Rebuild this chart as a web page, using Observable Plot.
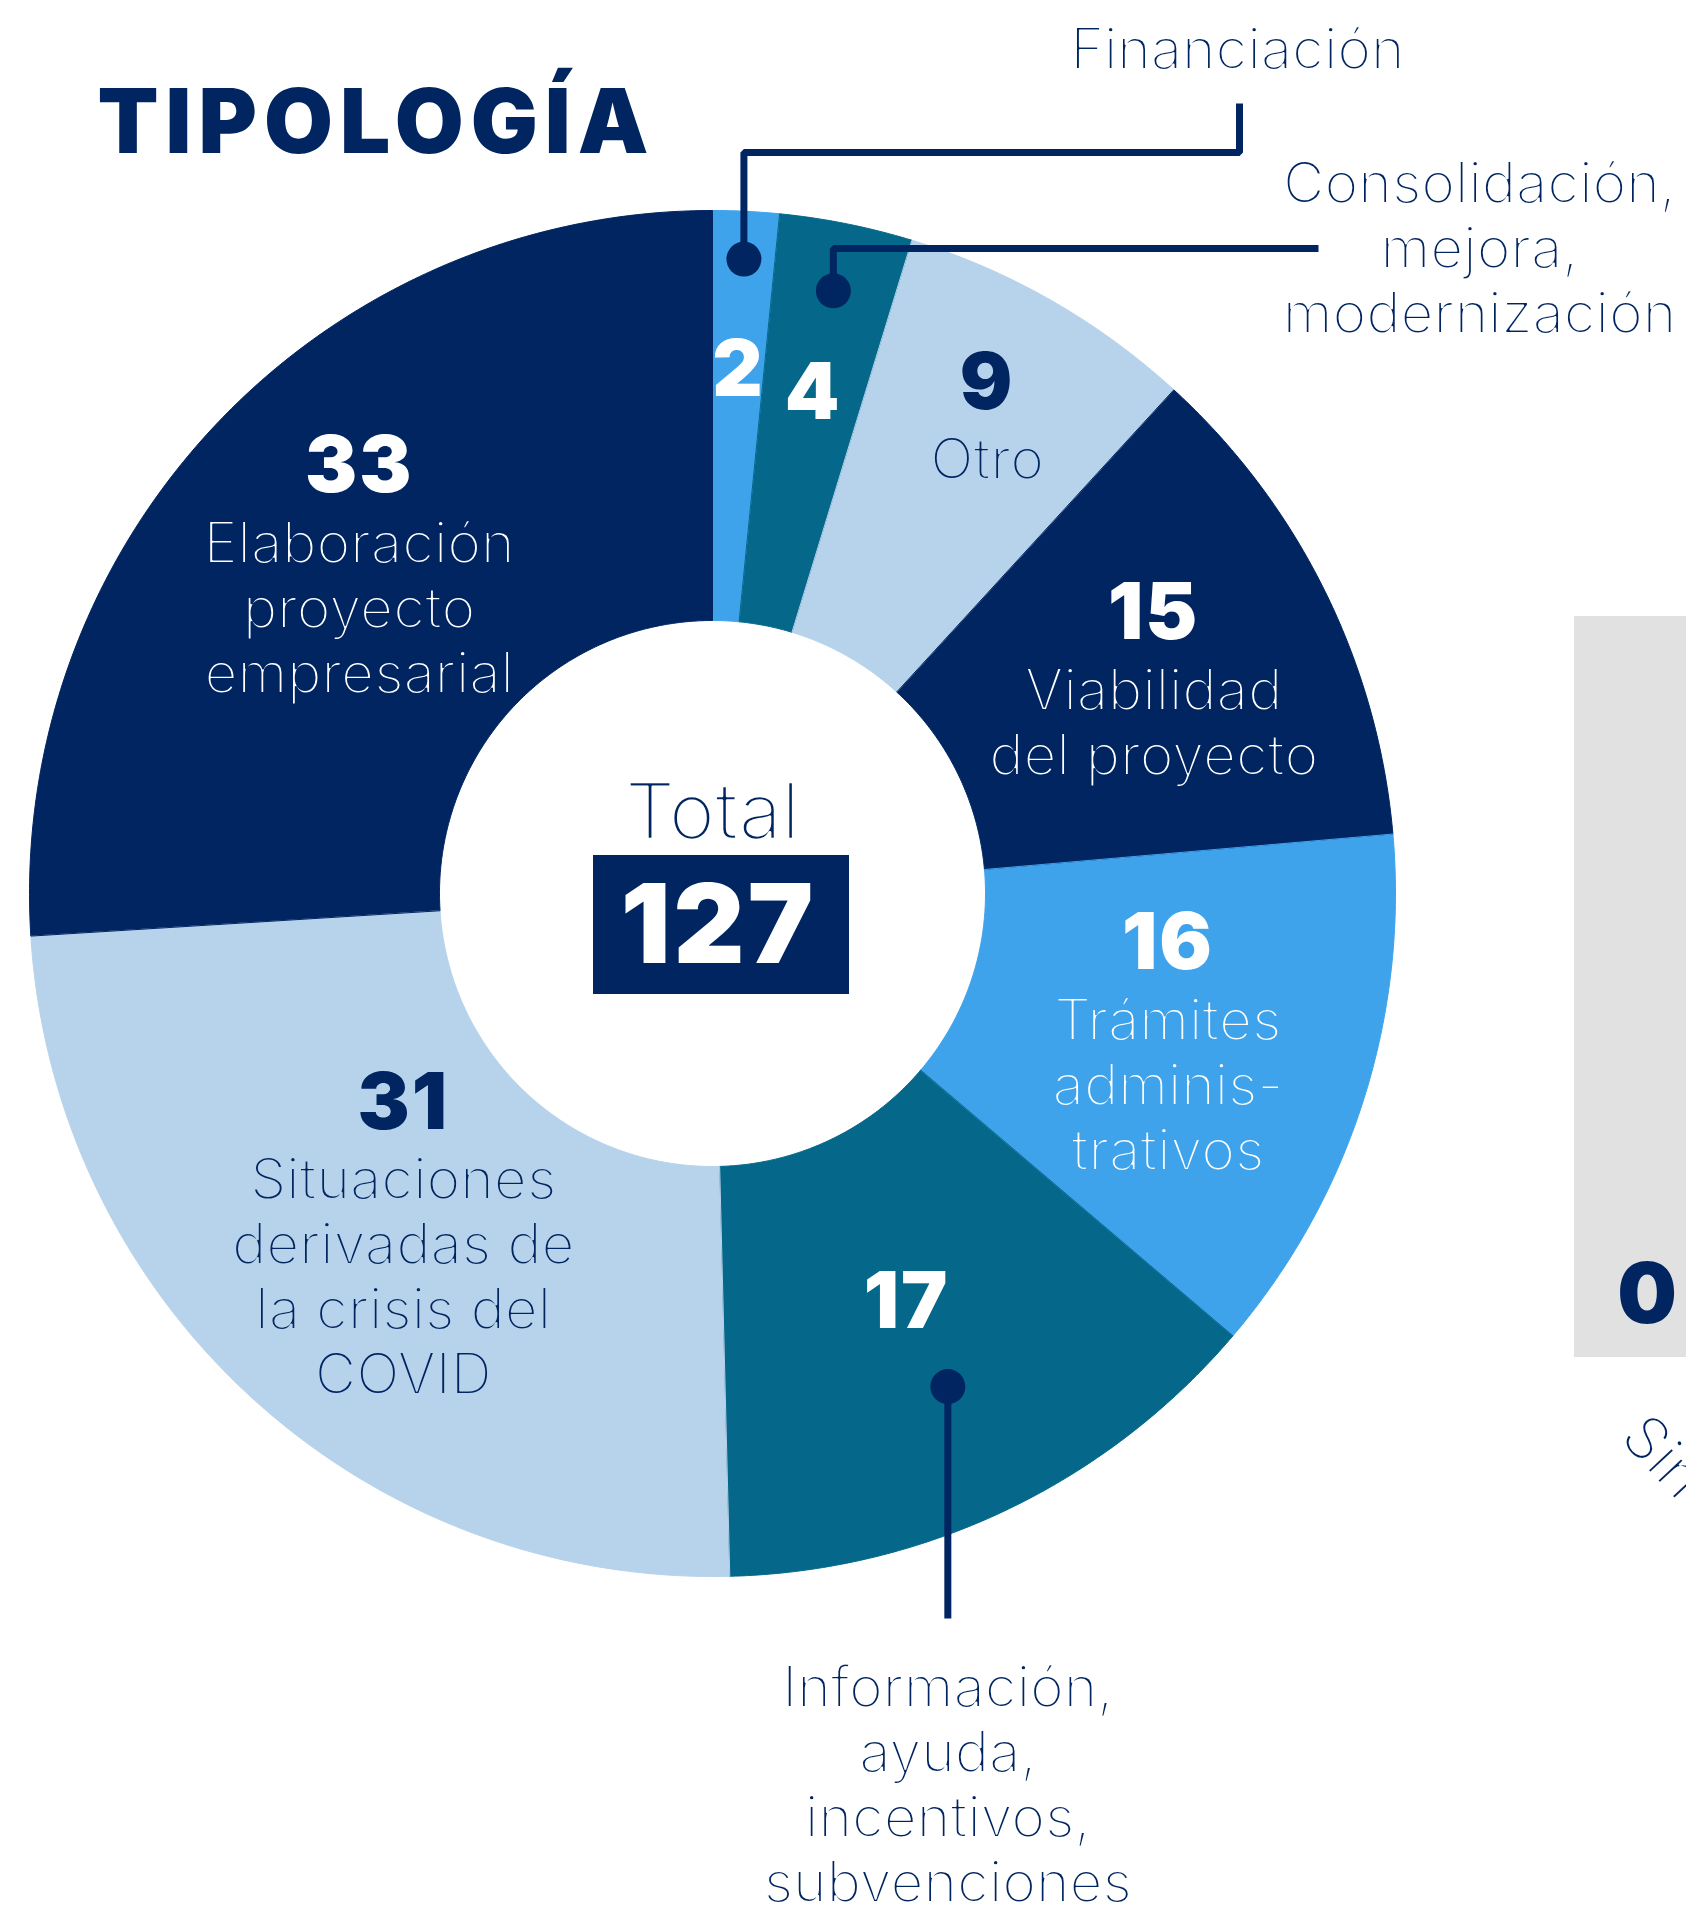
<!DOCTYPE html>
<html>
<head>
<meta charset="utf-8">
<script src="https://cdn.jsdelivr.net/npm/d3@7"></script>
<script src="https://cdn.jsdelivr.net/npm/@observablehq/plot@0.6"></script>
<style>
  html, body { margin: 0; padding: 0; background: #fff; }
  #wrap { position: relative; width: 1686px; height: 1905px; overflow: hidden; }
  #wrap svg { position: absolute; left: 0; top: 0; }
  #wrap svg text { font-variant-ligatures: none; paint-order: normal; }
  #side { position: absolute; left: 1574px; top: 616px; width: 112px; height: 741px; background: #e1e1e1; }
  #side-val { position: absolute; left: 1574px; width: 146px; top: 1243px; text-align: center;
    font-family: Inter, "Noto Sans", sans-serif; font-weight: 900; font-size: 84px; line-height: 100px; color: #002561; }
  #side-lab { position: absolute; left: 1660px; top: 1400px; transform-origin: 0 0; transform: rotate(47deg);
    font-family: Inter, Lato, sans-serif; font-weight: 300; font-size: 60px; line-height: 70px; color: #002561;
    white-space: nowrap; -webkit-text-stroke: 2px #fff; }
</style>
</head>
<body>
<div id="wrap">
  <div id="side"></div>
  <div id="side-val"></div>
  <div id="side-lab"></div>
</div>
<script>
// ---- data ----
const categories = [
  "Financiación",
  "Consolidación, mejora, modernización",
  "Otro",
  "Viabilidad del proyecto",
  "Trámites administrativos",
  "Información, ayuda, incentivos, subvenciones",
  "Situaciones derivadas de la crisis del COVID",
  "Elaboración proyecto empresarial"
];
const values = [2, 4, 9, 15, 16, 17, 31, 33];
const labelTexts = [
  "Financiación",
  "Consolidación,\nmejora,\nmodernización",
  "Otro",
  "Viabilidad\ndel proyecto",
  "Trámites\nadminis-\ntrativos",
  "Información,\nayuda,\nincentivos,\nsubvenciones",
  "Situaciones\nderivadas de\nla crisis del\nCOVID",
  "Elaboración\nproyecto\nempresarial"
];
const titleText = "TIPOLOGÍA";
const totalLabel = "Total";
const sideCategories = ["Sin"];
const sideValues = [0];

// ---- styling / layout ----
const NAVY = "#002561", TEAL = "#05688a", LIGHT = "#3fa3ec", PALE = "#b7d3eb";
const sliceColors = [LIGHT, TEAL, PALE, NAVY, LIGHT, TEAL, PALE, NAVY];
const NUM_FONT = "Inter, 'Noto Sans', sans-serif";
const LAB_FONT = "Inter, Lato, sans-serif";
const W = 1686, H = 1905;
const CX = 712, CY = 893;          // donut centre (px)
const R_OUT = 683, R_IN = 273;     // radii (px)
const NUM_FS = 78, NUM_H = 56;     // number font size / digit height
const LAB_FS = 57, LINE = 65;      // label font size / line spacing
const THIN = 2;                    // background-coloured outline that thins the label strokes
const TOP_OFF = 0.71 * LAB_FS;     // Plot's "top" line anchor offset
// label radius (fraction of outer radius) per slice
const labelRadius = [0.77, 0.75, 0.81, 0.72, 0.70, 0.66, 0.67, 0.71];
// slices whose category text sits outside, with a leader line
const callouts = {
  "Financiación": {dotR: 0.93, route: (p) => [[p[0], -741], [527, -741], [527, -790]], label: [525, -830]},
  "Consolidación, mejora, modernización": {dotR: 0.90, route: (p) => [[p[0], -645], [606, -645]], label: [767, -696]},
  "Información, ayuda, incentivos, subvenciones": {dotR: 0.80, route: (p) => [[p[0], 725]], label: [null, 808]}
};

// ---- geometry from the data ----
const rows = categories.map((c, i) => ({category: c, value: values[i], text: labelTexts[i], i}));
const arcs = d3.pie().sort(null).value(d => d.value)(rows);
const polar = (a, r) => [r * Math.sin(a), -r * Math.cos(a)];

const slicePts = arcs.flatMap(a => {
  const n = Math.max(4, Math.ceil((a.endAngle - a.startAngle) / (Math.PI / 360)));
  const pts = [];
  for (let k = 0; k <= n; k++) {
    const t = a.startAngle + (a.endAngle - a.startAngle) * k / n;
    const [x, y] = polar(t, R_OUT);
    pts.push({category: a.data.category, x, y});
  }
  for (let k = n; k >= 0; k--) {
    const t = a.startAngle + (a.endAngle - a.startAngle) * k / n;
    const [x, y] = polar(t, R_IN);
    pts.push({category: a.data.category, x, y});
  }
  return pts;
});

const labels = arcs.map(a => {
  const d = a.data;
  const mid = (a.startAngle + a.endAngle) / 2;
  const [lx, ly] = polar(mid, labelRadius[d.i] * R_OUT);
  const out = !!callouts[d.category];
  const nLines = out ? 0 : d.text.split("\n").length;
  const numBase = ly - (LINE * nLines - NUM_H) / 2;
  const dark = sliceColors[d.i] !== PALE;
  return {...d, mid, lx, ly, out, nLines, numBase, textTop: numBase + LINE - TOP_OFF, dark};
});

const dots = [], leaders = [], outLabels = [];
for (const a of arcs) {
  const c = callouts[a.data.category];
  if (!c) continue;
  const mid = (a.startAngle + a.endAngle) / 2;
  const p = polar(mid, c.dotR * R_OUT);
  dots.push({category: a.data.category, x: p[0], y: p[1]});
  [p, ...c.route(p)].forEach(([x, y]) => leaders.push({category: a.data.category, x, y}));
  outLabels.push({text: a.data.text, x: c.label[0] ?? p[0], y: c.label[1] - TOP_OFF});
}

const total = d3.sum(values);

const numText = (filter, fill) => Plot.text(labels, {x: "lx", y: "numBase", text: d => String(d.value), filter,
  fill, fontSize: NUM_FS, fontWeight: 900, fontFamily: NUM_FONT,
  lineAnchor: "bottom", textAnchor: "middle"});
const labText = (data, opts) => Plot.text(data, {fontSize: LAB_FS, fontWeight: 300, fontFamily: LAB_FONT,
  lineAnchor: "top", lineHeight: LINE / LAB_FS, textAnchor: "middle", strokeWidth: THIN, ...opts});

const plot = Plot.plot({
  width: W, height: H, margin: 0,
  x: {domain: [-CX, W - CX], range: [0, W], axis: null},
  y: {domain: [-CY, H - CY], range: [0, H], axis: null},
  color: {domain: categories, range: sliceColors},
  style: {background: "transparent", overflow: "visible"},
  marks: [
    // donut slices
    Plot.line(slicePts, {x: "x", y: "y", z: "category", fill: "category", stroke: "category",
      strokeWidth: 1, curve: "linear-closed"}),
    // leader lines + dots
    Plot.line(leaders, {x: "x", y: "y", z: "category", stroke: NAVY, strokeWidth: 7,
      strokeLinejoin: "miter", strokeLinecap: "butt"}),
    Plot.dot(dots, {x: "x", y: "y", r: 17.5, fill: NAVY, stroke: null}),
    // values inside slices
    numText(d => d.dark, "white"),
    numText(d => !d.dark, NAVY),
    // category names inside slices (outline in the slice colour)
    labText(labels, {x: "lx", y: "textTop", text: "text", filter: d => !d.out && d.dark, fill: "white", stroke: "category"}),
    labText(labels, {x: "lx", y: "textTop", text: "text", filter: d => !d.out && !d.dark, fill: NAVY, stroke: "category"}),
    // category names outside
    labText(outLabels, {x: "x", y: "y", text: "text", fill: NAVY, stroke: "white"}),
    // centre total
    Plot.text([totalLabel], {x: 0, y: -55, text: d => d, fill: NAVY, stroke: "white", strokeWidth: 2.6,
      fontSize: 78, fontWeight: 300, fontFamily: LAB_FONT, lineAnchor: "bottom", textAnchor: "middle"}),
    Plot.rect([total], {x1: 9 - 128, x2: 9 + 128, y1: -38, y2: 101, fill: NAVY}),
    Plot.text([total], {x: 6, y: 69, text: d => String(d), fill: "white", fontSize: 110, fontWeight: 900,
      fontFamily: NUM_FONT, lineAnchor: "bottom", textAnchor: "middle"}),
    // title
    Plot.text([titleText], {frameAnchor: "top-left", dx: 97, dy: 152, text: d => d, fill: NAVY,
      fontSize: 89, fontWeight: 900, fontFamily: NUM_FONT, lineAnchor: "bottom", textAnchor: "start"})
  ]
});

// letter spacing (not a Plot text option): applied to the rendered text
const spacing = new Map([[titleText, "7px"], [String(total), "3px"]]);
values.forEach(v => spacing.set(String(v), "2px"));
d3.select(plot).selectAll("text").each(function() {
  const s = spacing.get(this.textContent);
  if (s) d3.select(this).attr("letter-spacing", s);
});

const wrap = document.getElementById("wrap");
wrap.appendChild(plot);
document.getElementById("side-val").textContent = String(sideValues[0]);
document.getElementById("side-lab").textContent = sideCategories[0];
</script>
</body>
</html>
